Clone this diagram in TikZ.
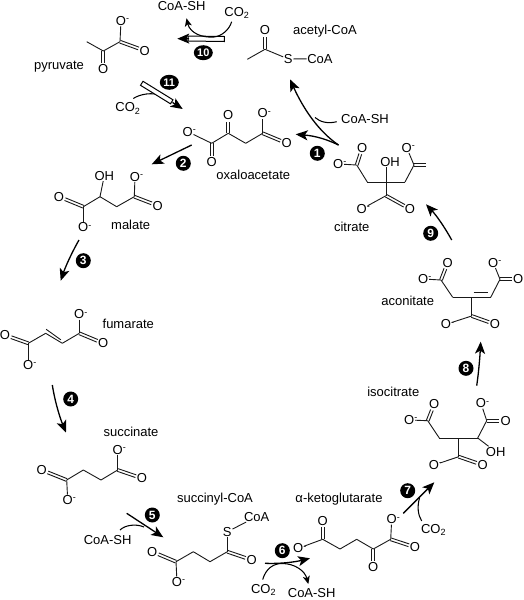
\documentclass[tikz,border=0pt]{standalone}
\usepackage{fontspec}
\setmainfont{Liberation Sans}
\usetikzlibrary{calc,arrows.meta,shapes.geometric}
\tikzset{
  bond/.style={line width=0.9pt,black!90},
  atom/.style={inner sep=0.6pt,font=\fontsize{13}{14}\selectfont},
  lbl/.style={inner sep=0pt,font=\fontsize{13}{14}\selectfont},
  rxn/.style={line width=1.3pt,-{Stealth[length=12pt,width=10pt,inset=3pt]}},
  sidearrow/.style={line width=1.05pt,-{Stealth[length=8pt,width=7pt,inset=2pt]}},
  sideline/.style={line width=1.05pt},
  hollow/.style={line width=1pt,fill=white},
  badge/.style={circle,fill=black,text=white,inner sep=0pt,minimum size=15pt,font=\bfseries\fontsize{12}{12}\selectfont},
  badgew/.style={ellipse,fill=black,text=white,inner sep=0pt,minimum width=19pt,minimum height=15pt,font=\bfseries\fontsize{11}{11}\selectfont},
}
\newcommand\V[2]{\coordinate (#1) at (#2);}
\newcommand\Oa[2]{\node[atom] (#1) at (#2) {O};}
\newcommand\Om[2]{\node[atom] (#1) at (#2) {O\rlap{\raisebox{0.55ex}{\fontsize{9}{9}\selectfont -}}};}
\newcommand\Bd[1]{\foreach \pa/\pb in {#1}{\draw[bond] (\pa) -- (\pb);}}
\newcommand\Db[2]{%
  \draw[bond,shorten >=6.5pt] ($(#1)!1.4pt!90:(#2)$) -- ($(#2)!1.4pt!-90:(#1)$);
  \draw[bond,shorten >=6.5pt] ($(#1)!1.4pt!-90:(#2)$) -- ($(#2)!1.4pt!90:(#1)$);}
\newcommand\COO{CO\raisebox{-0.35ex}{\fontsize{9}{9}\selectfont 2}}
\begin{document}
\begin{tikzpicture}[x=1pt,y=-1pt]
\fill[white] (0,0) rectangle (523,600);
\useasboundingbox (0,0) rectangle (523,600);

% pyruvate
\V{pyA}{86.7,41.7}\V{pyB}{103.3,51}\V{pyC}{120,41.7}
\Om{pyD}{121,20.7}\Oa{pyE}{144.7,50.7}\Oa{pyF}{103.3,69.3}
\Bd{pyA/pyB,pyB/pyC,pyC/pyD}\Db{pyC}{pyE}\Db{pyB}{pyF}
\node[lbl] (pyL) at (59,67) {pyruvate};

% acetyl-CoA
\Oa{acO}{265,30}\V{acC}{265,49.3}\V{acM}{247.3,59.3}
\node[atom] (acS) at (288.3,59) {S};
\node[atom] (acR) at (320,58.7) {CoA};
\Bd{acM/acC,acC/acS,acS/acR}\Db{acC}{acO}
\node[lbl] (acL) at (325,31) {acetyl-CoA};

% oxaloacetate
\V{oaA}{211.7,143.3}\Om{oaB}{187.7,131.7}\Oa{oaC}{211.7,162.3}
\V{oaD}{228.3,133.3}\Oa{oaE}{228.3,115}\V{oaF}{245.7,143.3}
\V{oaG}{262.7,133.3}\Om{oaH}{262.7,113.3}\Oa{oaI}{286.7,143.3}
\Bd{oaB/oaA,oaA/oaD,oaD/oaF,oaF/oaG,oaG/oaH}\Db{oaA}{oaC}\Db{oaD}{oaE}\Db{oaG}{oaI}
\node[lbl] (oaL) at (253.3,175) {oxaloacetate};

% malate
\node[atom] (maOH) at (104.3,175.7) {OH};
\V{maA}{100,196.7}\V{maB}{83.3,206.7}\Oa{maC}{59,196.7}\Om{maD}{83.3,227.3}
\V{maE}{116.7,206.7}\V{maF}{134.3,196.7}\Om{maG}{135,176.7}\Oa{maH}{157.7,205.7}
\Bd{maOH/maA,maA/maB,maB/maD,maA/maE,maE/maF,maF/maG}\Db{maB}{maC}\Db{maF}{maH}
\node[lbl] (maL) at (130.7,225.3) {malate};

% fumarate
\Om{fuA}{79.3,314.3}\V{fuB}{79.3,333.3}\V{fuC}{62.3,343.3}\V{fuD}{45.7,333.3}
\V{fuE}{28.3,343.3}\Oa{fuF}{5,335}\Om{fuG}{28.3,365}\Oa{fuH}{103.3,343.3}
\Bd{fuA/fuB,fuB/fuC,fuC/fuD,fuD/fuE,fuE/fuG}\Db{fuB}{fuH}\Db{fuE}{fuF}
\draw[bond] ($(fuC)+(-1.5,-3.5)$) -- ($(fuD)+(0.5,-4)$);
\node[lbl] (fuL) at (128.3,324.3) {fumarate};

% succinate
\node[lbl] (suL) at (131,431.7) {succinate};
\Om{suA}{117.7,450}\V{suB}{117.7,470}\V{suC}{101,480}\V{suD}{83.3,470}
\V{suE}{66.7,480}\Oa{suF}{41.7,470}\Om{suG}{67.7,500}\Oa{suH}{142,478.3}
\Bd{suA/suB,suB/suC,suC/suD,suD/suE,suE/suG}\Db{suB}{suH}\Db{suE}{suF}

% succinyl-CoA
\node[lbl] (scL) at (215,499) {succinyl-CoA};
\node[atom] (scS) at (227.3,531.7) {S};
\node[atom] (scR) at (256.7,516.7) {CoA};
\V{scA}{227.3,551.7}\V{scB}{210,561.7}\V{scC}{193.3,551.7}\V{scD}{176,561.7}
\Oa{scE}{152.3,551.7}\Om{scF}{177,582}\Oa{scG}{251.7,560}
\Bd{scS/scR,scS/scA,scA/scB,scB/scC,scC/scD,scD/scF}\Db{scA}{scG}\Db{scD}{scE}

% alpha-ketoglutarate
\node[lbl] (kgL) at (339,499) {α-ketoglutarate};
\Om{kgA}{298.3,548.3}\V{kgB}{322.7,539.3}\Oa{kgC}{322.7,520.7}\V{kgD}{340,549}
\V{kgE}{356.7,539.3}\V{kgF}{373.3,549}\Oa{kgG}{373.3,567.3}\V{kgH}{390.7,539.3}
\Om{kgI}{391.7,519.3}\Oa{kgJ}{415,547.3}
\Bd{kgA/kgB,kgB/kgD,kgD/kgE,kgE/kgF,kgF/kgH,kgH/kgI}\Db{kgB}{kgC}\Db{kgF}{kgG}\Db{kgH}{kgJ}

% isocitrate
\node[lbl] (isL) at (393.3,391.7) {isocitrate};
\Oa{isA}{434.3,404}\Om{isB}{409.3,420}\V{isC}{427.7,420.7}\V{isD}{439.3,438}
\V{isE}{458.7,438}\V{isF}{477.7,438}\V{isG}{486.7,420.7}\Om{isH}{481,403.3}
\Oa{isI}{505.7,420.7}\node[atom] (isOH) at (495.7,451.7) {OH};
\V{isJ}{458.7,456.7}\Om{isK}{434,465}\Oa{isM}{482.7,465}
\Bd{isB/isC,isC/isD,isD/isE,isE/isF,isF/isG,isG/isH,isF/isOH,isE/isJ,isK/isJ}
\Db{isC}{isA}\Db{isG}{isI}\Db{isJ}{isM}

% aconitate
\node[lbl] (aoL) at (407.7,300.7) {aconitate};
\Oa{aoA}{447.7,262.7}\Om{aoB}{423.3,279}\V{aoC}{441,280}\V{aoD}{452.7,297.3}
\V{aoE}{471.7,297.3}\V{aoF}{490.7,297.3}\V{aoG}{500,279.3}\Om{aoH}{493.3,262.7}
\Oa{aoI}{518.3,279.3}\V{aoJ}{471.7,316}\Om{aoK}{446,324.3}\Oa{aoM}{495,324.3}
\Bd{aoB/aoC,aoC/aoD,aoD/aoE,aoE/aoF,aoF/aoG,aoG/aoH,aoE/aoJ,aoK/aoJ}
\Db{aoC}{aoA}\Db{aoG}{aoI}\Db{aoJ}{aoM}
\draw[bond,line width=1.2pt] ($(aoE)+(1.8,-4.6)$) -- ($(aoF)+(-2.6,-4.6)$);

% citrate
\node[lbl] (ciL) at (351.7,226.7) {citrate};
\Oa{ciA}{362.3,147.7}\Om{ciB}{338.3,164}\V{ciC}{356.7,165}\V{ciD}{367.3,182}
\V{ciE}{386,182}\V{ciF}{405,182}\V{ciG}{414,165}\Om{ciH}{406.7,147.7}
\V{ciI}{425.7,165}\node[atom] (ciOH) at (390,161.7) {OH};
\V{ciJ}{386,195.7}\Om{ciK}{361.7,209}\Oa{ciM}{410,209}
\Bd{ciB/ciC,ciC/ciD,ciD/ciE,ciE/ciF,ciF/ciG,ciG/ciH,ciK/ciJ}
\draw[bond] (ciE |- ciOH.south) -- (ciJ);
\Db{ciC}{ciA}\Db{ciJ}{ciM}
\draw[bond] ($(ciG)+(0,-1.5)$) -- ($(ciI)+(0,-1.5)$);
\draw[bond] ($(ciG)+(0,1.5)$) -- ($(ciI)+(0,1.5)$);

% reactions: free ends
\V{r1s}{338.5,145}\V{r1a}{295.7,134.3}\V{r1b}{290,79.3}
\V{r2s}{191.7,145}\V{r2t}{151.7,164.3}
\V{r3s}{79,240}\V{r3t}{60.7,280.7}
\V{r4s}{52.3,385}\V{r4t}{66,432.5}
\V{r5s}{126.7,513.3}\V{r5t}{163.3,537.3}
\V{r6s}{265,563.3}\V{r6t}{310,558.3}
\V{r7s}{403.3,513.3}\V{r7t}{434.3,482.3}
\V{r8s}{476.7,385.7}\V{r8t}{480.7,341.7}
\V{r9s}{451.7,240}\V{r9t}{426,204.3}

\draw[rxn] (r1s) .. controls (322,137) and (310,135.5) .. (r1a);
\draw[rxn] (r1s) .. controls (318,131) and (303,108) .. (r1b);
\draw[rxn] (r2s) -- (r2t);
\draw[rxn] (r3s) .. controls (71,254) and (65,268) .. (r3t);
\draw[rxn] (r4s) .. controls (55,402) and (60,418) .. (r4t);
\draw[rxn] (r5s) -- (r5t);
\draw[rxn] (r6s) .. controls (280,564) and (295,562) .. (r6t);
\draw[rxn] (r7s) -- (r7t);
\draw[rxn] (r8s) .. controls (479,370) and (480,355) .. (r8t);
\draw[rxn] (r9s) .. controls (444,226) and (436,215) .. (r9t);

% side reactants and products
\node[lbl] (x1) at (365,119.3) {CoA-SH};
\draw[sideline] (336.7,121.7) .. controls (328,124) and (320,122) .. (315,117.5);
\node[lbl] (x5) at (107.7,540) {CoA-SH};
\draw[sideline] (120,530) .. controls (125,525) and (136,523.5) .. (144,527);
\node[lbl] (x6a) at (263.3,590) {\COO};
\node[lbl] (x6b) at (311.7,593.5) {CoA-SH};
\draw[sidearrow] (262.7,579.5) .. controls (266,568) and (274,563.5) .. (282,563.5)
  .. controls (295,563.5) and (305,571) .. (308.3,584);
\node[lbl] (x7) at (433.3,530) {\COO};
\draw[sideline] (421.7,521) .. controls (418,515) and (417,507) .. (419.5,498);
\node[lbl] (x10a) at (236.7,12.7) {\COO};
\node[lbl] (x10b) at (181.7,6) {CoA-SH};
\node[lbl] (x11) at (127.7,108.3) {\COO};
\draw[sideline] (133.3,98.5) .. controls (140,94) and (152,92) .. (162,95.5);

% hollow arrows 10 and 11
\V{h10b}{189,38.6}\V{h10t}{177.3,38.7}
\draw[hollow] (224.3,36.5) -- (224.3,41.5) -- (188,41) -- (188,36) -- cycle;
\draw[rxn] (h10b) -- (h10t);
\draw[sidearrow] (231.7,21.7) .. controls (229,30) and (222,36) .. (214,37)
  .. controls (202,38) and (190,33) .. (186.5,18.3);
\draw[hollow] (143,81.3) -- (140.5,85.3) -- (170.5,103.8) -- (173,99.8) -- cycle;
\V{h11b}{172.5,102.4}\V{h11t}{182.7,109}
\draw[rxn] (h11b) -- (h11t);

% badges
\node[badge] (b1) at (317.3,153.3) {1};
\node[badge] (b2) at (183.3,163.3) {2};
\node[badge] (b3) at (83.3,260.7) {3};
\node[badge] (b4) at (70.7,399) {4};
\node[badge] (b5) at (152.3,515) {5};
\node[badge] (b6) at (282.3,550.7) {6};
\node[badge] (b7) at (407.7,490.7) {7};
\node[badge] (b8) at (466,368.3) {8};
\node[badge] (b9) at (430.7,233.3) {9};
\node[badgew] (b10) at (203.3,52.7) {10};
\node[badgew] (b11) at (169.3,82.3) {11};
\end{tikzpicture}
\end{document}
